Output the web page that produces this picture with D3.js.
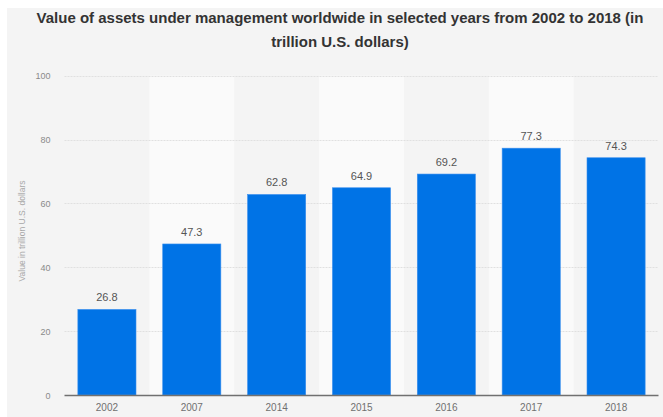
<!DOCTYPE html>
<html>
<head>
<meta charset="utf-8">
<script src="https://cdn.jsdelivr.net/npm/d3@7"></script>
<style>
  html, body { margin: 0; padding: 0; background: #ffffff; }
  svg { display: block; font-family: "Liberation Sans", Arial, sans-serif; }
</style>
</head>
<body>
<svg id="chart" width="663" height="417"></svg>
<script>
// Assets under management worldwide, trillion U.S. dollars
const years = ["2002", "2007", "2014", "2015", "2016", "2017", "2018"];
const values = [26.8, 47.3, 62.8, 64.9, 69.2, 77.3, 74.3];
const yTicks = [0, 20, 40, 60, 80, 100];
const titleLines = [
  "Value of assets under management worldwide in selected years from 2002 to 2018 (in",
  "trillion U.S. dollars)"
];
const yAxisTitle = "Value in trillion U.S. dollars";

const W = 663, H = 417;
const plot = { left: 64.5, right: 658.5, top: 75.7, bottom: 395 };

const svg = d3.select("#chart");

// panel background
svg.append("rect")
  .attr("x", 7).attr("y", 8)
  .attr("width", W - 7).attr("height", H - 8)
  .attr("fill", "#f4f4f4");

const x = d3.scaleBand()
  .domain(years)
  .range([plot.left, plot.right])
  .paddingInner(0.315)
  .paddingOuter(0.1575);

const y = d3.scaleLinear()
  .domain([0, 100])
  .range([plot.bottom, plot.top]);

const step = x.step();
const bandLeft = d => plot.left + years.indexOf(d) * step;

// alternating lighter category bands
svg.append("g")
  .selectAll("rect")
  .data(years.filter((d, i) => i % 2 === 1))
  .join("rect")
  .attr("x", d => bandLeft(d))
  .attr("y", y(100))
  .attr("width", step)
  .attr("height", y(0) - y(100))
  .attr("fill", "#fafafa");

// horizontal grid lines
svg.append("g")
  .selectAll("line")
  .data(yTicks.filter(t => t > 0))
  .join("line")
  .attr("x1", plot.left).attr("x2", plot.right)
  .attr("y1", d => Math.round(y(d)) + 0.5)
  .attr("y2", d => Math.round(y(d)) + 0.5)
  .attr("stroke", "#e0e0e0")
  .attr("stroke-width", 1)
  .attr("stroke-dasharray", "2,1");

// y axis tick labels
const yAxis = d3.axisLeft(y).tickValues(yTicks).tickSize(0).tickPadding(0);
const yG = svg.append("g")
  .attr("transform", `translate(${plot.left - 14},0)`)
  .call(yAxis);
yG.select(".domain").remove();
yG.selectAll("text")
  .attr("fill", "#8a8a8a")
  .style("font-size", "9px")
  .attr("dy", "0.35em");

// y axis title
svg.append("text")
  .attr("transform", `translate(25,231) rotate(-90)`)
  .attr("text-anchor", "middle")
  .attr("fill", "#a8a8a8")
  .style("font-size", "8.5px")
  .text(yAxisTitle);

// bars
svg.append("g")
  .selectAll("rect")
  .data(years.map((d, i) => ({ year: d, value: values[i] })))
  .join("rect")
  .attr("x", d => x(d.year))
  .attr("y", d => y(d.value))
  .attr("width", x.bandwidth())
  .attr("height", d => y(0) - y(d.value))
  .attr("fill", "#0073e6")
  .attr("stroke", "#3a8fee")
  .attr("stroke-width", 0.6);

// value labels
svg.append("g")
  .selectAll("text")
  .data(years.map((d, i) => ({ year: d, value: values[i] })))
  .join("text")
  .attr("x", d => x(d.year) + x.bandwidth() / 2)
  .attr("y", d => y(d.value) - 8)
  .attr("text-anchor", "middle")
  .attr("fill", "#555555")
  .style("font-size", "11px")
  .text(d => d3.format(".1f")(d.value));

// baseline
svg.append("line")
  .attr("x1", plot.left).attr("x2", plot.right)
  .attr("y1", y(0) + 0.5).attr("y2", y(0) + 0.5)
  .attr("stroke", "#707070")
  .attr("stroke-width", 1.4);

// x axis labels
const xAxis = d3.axisBottom(x).tickSize(0).tickPadding(0);
const xG = svg.append("g")
  .attr("transform", `translate(0,${plot.bottom + 9})`)
  .call(xAxis);
xG.select(".domain").remove();
xG.selectAll("text")
  .attr("fill", "#707070")
  .style("font-size", "10px")
  .attr("dy", "0.71em");

// title
svg.append("g")
  .selectAll("text")
  .data(titleLines)
  .join("text")
  .attr("x", 340)
  .attr("y", (d, i) => 23 + i * 24)
  .attr("text-anchor", "middle")
  .attr("fill", "#333333")
  .style("font-size", "15px")
  .style("font-weight", "bold")
  .text(d => d);
</script>
</body>
</html>
